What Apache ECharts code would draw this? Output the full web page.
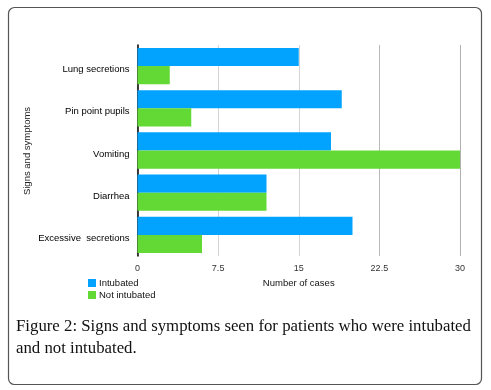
<!DOCTYPE html>
<html>
<head>
<meta charset="utf-8">
<script src="https://cdn.jsdelivr.net/npm/echarts@6/dist/echarts.min.js"></script>
<style>
html, body { margin: 0; padding: 0; background: #fff; }
#chart { width: 491px; height: 390px; }
</style>
</head>
<body>
<div id="chart"></div>
<script>
// data
var categories = ['Lung secretions', 'Pin point pupils', 'Vomiting', 'Diarrhea', 'Excessive  secretions'];
var intubated = [15, 19, 18, 12, 20];
var notIntubated = [3, 5, 30, 12, 6];
var xTicks = [0, 7.5, 15, 22.5, 30];

var blue = '#02a3fe';
var green = '#62d935';
var labelFont = 'Liberation Sans, Arial, sans-serif';

var myChart = echarts.init(document.getElementById('chart'));
myChart.setOption({
    animation: false,
    grid: { left: 137.5, right: 31, top: 45, bottom: 134 },
    legend: {
        orient: 'vertical',
        left: 83,
        top: 273,
        itemWidth: 8,
        itemHeight: 8,
        itemGap: 2,
        icon: 'rect',
        textStyle: { fontFamily: labelFont, fontSize: 9.5, color: '#111', padding: [0, 0, 0, -2] },
        data: ['Intubated', 'Not intubated']
    },
    xAxis: {
        type: 'value',
        min: xTicks[0],
        max: xTicks[xTicks.length - 1],
        interval: 7.5,
        name: 'Number of cases',
        nameLocation: 'middle',
        nameGap: 21,
        nameTextStyle: { fontFamily: labelFont, fontSize: 9.5, color: '#111' },
        axisLine: { show: false },
        axisTick: { show: false },
        axisLabel: { fontFamily: labelFont, fontSize: 9, color: '#333', margin: 8 },
        splitLine: { lineStyle: { color: ['#d4d4d4', '#d4d4d4', '#d4d4d4', '#b8b8b8', '#b0b0b0'], width: 1 } }
    },
    yAxis: {
        type: 'category',
        inverse: true,
        data: categories,
        axisLine: { lineStyle: { color: '#000', width: 1.5 } },
        axisTick: { show: false },
        axisLabel: {
            fontFamily: labelFont, fontSize: 9.5, color: '#000', margin: 8,
            formatter: '{c|{value}}',
            rich: { c: { fontFamily: labelFont, fontSize: 9.5, color: '#000', padding: [7, 0, 0, 0] } }
        }
    },
    series: [{
        name: 'Intubated',
        type: 'bar',
        barGap: '0%',
        barCategoryGap: '14%',
        itemStyle: { color: blue },
        data: intubated
    }, {
        name: 'Not intubated',
        type: 'bar',
        itemStyle: { color: green },
        data: notIntubated
    }],
    graphic: [{
        type: 'rect',
        shape: { x: 8.5, y: 7.5, width: 473, height: 377, r: 6 },
        style: { fill: 'none', stroke: '#555', lineWidth: 1.2 },
        silent: true
    }, {
        // y axis title
        type: 'text',
        x: 27,
        y: 151,
        rotation: Math.PI / 2,
        style: {
            text: 'Signs and symptoms',
            font: '9.5px ' + labelFont,
            fill: '#222',
            align: 'center',
            verticalAlign: 'middle'
        }
    }, {
        type: 'text',
        left: 16,
        top: 316,
        style: {
            text: 'Figure 2: Signs and symptoms seen for patients who were intubated\nand not intubated.',
            font: '16.8px "Liberation Serif", "DejaVu Serif", serif',
            fill: '#111',
            lineHeight: 22
        }
    }]
});
</script>
</body>
</html>
